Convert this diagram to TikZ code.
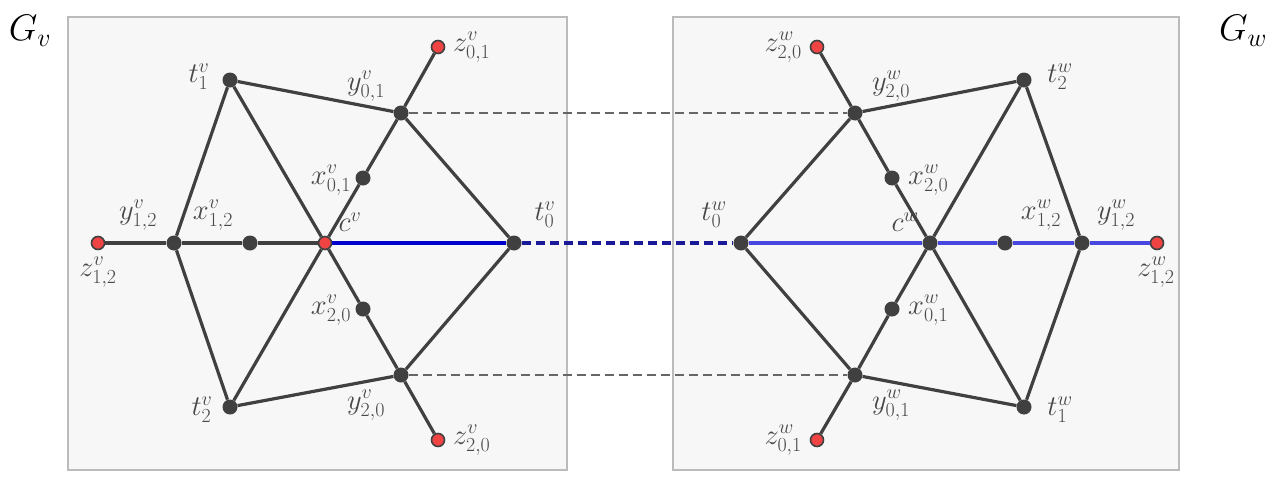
\RequirePackage{fix-cm}
\documentclass[tikz,border=0pt]{standalone}
\usepackage{amsmath}
\begin{document}
\begin{tikzpicture}[x=1pt,y=-1pt,
  dot/.style={circle,fill=dotgray,inner sep=0pt,minimum size=15pt},
  rdot/.style={circle,fill=redfill,draw=dotgray,line width=1.6pt,inner sep=0pt,minimum size=13pt},
  edge/.style={draw=dotgray,line width=3.2pt},
  bedge/.style={draw=bluev,line width=3.4pt},
  wedge/.style={draw=bluew,line width=3.4pt},
  link/.style={draw=linkgray,line width=1.8pt,dash pattern=on 9pt off 5pt},
  blink/.style={draw=bluedash,line width=3.6pt,dash pattern=on 9pt off 5pt},
  lbl/.style={text=lblgray,font=\fontsize{28.5}{33}\selectfont,inner sep=0pt},
  glbl/.style={font=\fontsize{37}{42}\selectfont,inner sep=0pt},
  panel/.style={fill=panelfill,draw=panelline,line width=1.3pt}]
\definecolor{dotgray}{HTML}{404040}
\definecolor{redfill}{HTML}{F04444}
\definecolor{bluev}{HTML}{0000CC}
\definecolor{bluew}{HTML}{4848E0}
\definecolor{bluedash}{HTML}{1A1A99}
\definecolor{linkgray}{HTML}{666666}
\definecolor{lblgray}{HTML}{484848}
\definecolor{panelfill}{HTML}{F7F7F7}
\definecolor{panelline}{HTML}{BBBBBB}
\useasboundingbox (0,0) rectangle (1285,477);
\fill[white] (0,0) rectangle (1285,477);
\draw[panel] (68,17) rectangle (567,470);
\draw[panel] (673,17) rectangle (1179,470);
% left graph nodes
\node[rdot] (cv) at (325,243) {};
\node[dot] (t1v) at (230,80) {};
\node[dot] (t2v) at (230,407) {};
\node[dot] (t0v) at (514,243) {};
\node[dot] (y01v) at (401,113) {};
\node[rdot] (z01v) at (438,47) {};
\node[dot] (x01v) at (363,178) {};
\node[dot] (y20v) at (401,375) {};
\node[rdot] (z20v) at (438,440) {};
\node[dot] (x20v) at (363,309) {};
\node[dot] (y12v) at (174,243) {};
\node[dot] (x12v) at (250,243) {};
\node[rdot] (z12v) at (98,243) {};
% right graph nodes
\node[dot] (cw) at (930,243) {};
\node[dot] (t0w) at (741,243) {};
\node[dot] (t2w) at (1024,80) {};
\node[dot] (t1w) at (1024,407) {};
\node[dot] (y20w) at (855,113) {};
\node[rdot] (z20w) at (817,47) {};
\node[dot] (x20w) at (892,178) {};
\node[dot] (y01w) at (855,375) {};
\node[rdot] (z01w) at (817,440) {};
\node[dot] (x01w) at (892,309) {};
\node[dot] (x12w) at (1005,243) {};
\node[dot] (y12w) at (1082,243) {};
\node[rdot] (z12w) at (1157,243) {};
% left edges
\path[edge] (t1v) -- (y01v);
\path[edge] (t1v) -- (cv);
\path[edge] (t1v) -- (y12v);
\path[edge] (z12v) -- (y12v);
\path[edge] (y12v) -- (x12v);
\path[edge] (x12v) -- (cv);
\path[edge] (cv) -- (x01v);
\path[edge] (x01v) -- (y01v);
\path[edge] (y01v) -- (z01v);
\path[edge] (y01v) -- (t0v);
\path[edge] (cv) -- (x20v);
\path[edge] (x20v) -- (y20v);
\path[edge] (y20v) -- (z20v);
\path[edge] (y20v) -- (t0v);
\path[edge] (t2v) -- (y20v);
\path[edge] (t2v) -- (cv);
\path[edge] (t2v) -- (y12v);
\path[bedge] (cv) -- (t0v);
% right edges
\path[edge] (t0w) -- (y20w);
\path[edge] (t0w) -- (y01w);
\path[edge] (cw) -- (x20w);
\path[edge] (x20w) -- (y20w);
\path[edge] (y20w) -- (z20w);
\path[edge] (cw) -- (x01w);
\path[edge] (x01w) -- (y01w);
\path[edge] (y01w) -- (z01w);
\path[edge] (cw) -- (t2w);
\path[edge] (cw) -- (t1w);
\path[edge] (t2w) -- (y20w);
\path[edge] (t2w) -- (y12w);
\path[edge] (t1w) -- (y01w);
\path[edge] (t1w) -- (y12w);
\path[wedge] (t0w) -- (cw);
\path[wedge] (cw) -- (x12w);
\path[wedge] (x12w) -- (y12w);
\path[wedge] (y12w) -- (z12w);
% links between the graphs
\path[link] (y01v) -- (y20w);
\path[link] (y20v) -- (y01w);
\path[blink] (t0v) -- (t0w);
% labels
\node[glbl] (gv) at (30,31) {$G_v$};
\node[glbl] (gw) at (1243,31) {$G_w$};
\node[lbl] (lt1v) at (199,77) {$t_1^v$};
\node[lbl] (ly01v) at (366,86) {$y_{0,1}^v$};
\node[lbl,anchor=west] (lz01v) at (453,47) {$z_{0,1}^v$};
\node[lbl] (lx01v) at (331,180) {$x_{0,1}^v$};
\node[lbl] (lcv) at (350,222) {$c^v$};
\node[lbl] (lt0v) at (545,215) {$t_0^v$};
\node[lbl] (ly12v) at (138,215) {$y_{1,2}^v$};
\node[lbl] (lx12v) at (213,215) {$x_{1,2}^v$};
\node[lbl] (lz12v) at (98,272) {$z_{1,2}^v$};
\node[lbl] (lx20v) at (331,310) {$x_{2,0}^v$};
\node[lbl] (ly20v) at (366,405) {$y_{2,0}^v$};
\node[lbl,anchor=west] (lz20v) at (453,440) {$z_{2,0}^v$};
\node[lbl] (lt2v) at (202,410) {$t_2^v$};
\node[lbl,anchor=east] (lz20w) at (802,47) {$z_{2,0}^w$};
\node[lbl] (ly20w) at (891,86) {$y_{2,0}^w$};
\node[lbl,anchor=west] (lx20w) at (908,180) {$x_{2,0}^w$};
\node[lbl] (lt0w) at (714,215) {$t_0^w$};
\node[lbl] (lcw) at (905,222) {$c^w$};
\node[lbl] (lt2w) at (1060,77) {$t_2^w$};
\node[lbl] (lx12w) at (1041,215) {$x_{1,2}^w$};
\node[lbl] (ly12w) at (1116,215) {$y_{1,2}^w$};
\node[lbl] (lz12w) at (1156,272) {$z_{1,2}^w$};
\node[lbl,anchor=west] (lx01w) at (908,310) {$x_{0,1}^w$};
\node[lbl] (ly01w) at (891,405) {$y_{0,1}^w$};
\node[lbl,anchor=east] (lz01w) at (802,440) {$z_{0,1}^w$};
\node[lbl] (lt1w) at (1060,410) {$t_1^w$};
\end{tikzpicture}
\end{document}
